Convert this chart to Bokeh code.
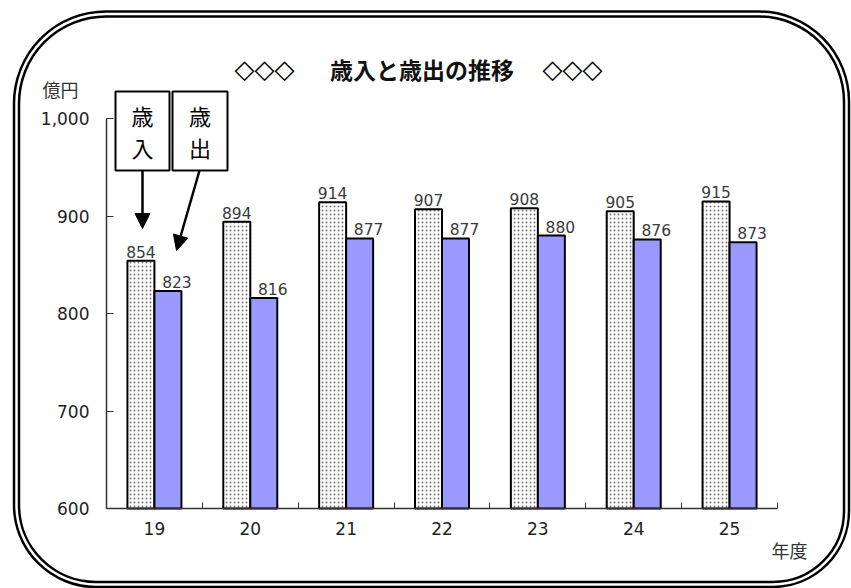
from bokeh.plotting import figure
from bokeh.models import (ColumnDataSource, FixedTicker, NumeralTickFormatter, Label,
                          BoxAnnotation, Arrow, NormalHead, Range1d)
from bokeh.transform import dodge
from bokeh.embed import file_html
from bokeh.resources import INLINE
from bokeh.core.properties import value

# ---- data ----
years = ["19", "20", "21", "22", "23", "24", "25"]
revenue = [854, 894, 914, 907, 908, 905, 915]        # 歳入
expenditure = [823, 816, 877, 877, 880, 876, 873]    # 歳出
y_ticks = [600, 700, 800, 900, 1000]

# ---- layout (pixels) ----
W, H = 851, 588
FL, FR, FB = 106, 777, 508      # plot-area left/right/bottom in canvas pixels
Y0, Y1 = 600, 1000
YTOP_PX = 118                   # pixel row of the 1,000 tick
n = len(years)
ppu_y = (FB - YTOP_PX) / (Y1 - Y0)
ppu_x = (FR - FL) / n


def dx(px):
    return (px - FL) / ppu_x


def dy(py):
    return Y0 + (FB - py) / ppu_y


p = figure(width=W, height=H, x_range=Range1d(dx(0), dx(W)), y_range=Range1d(dy(H), dy(0)),
           output_backend="svg", toolbar_location=None, tools="", title=None,
           min_border=0, min_border_left=0, min_border_right=0,
           min_border_top=0, min_border_bottom=0)
p.outline_line_color = None
p.xgrid.visible = False
p.ygrid.visible = False
p.background_fill_color = "white"
p.border_fill_color = "white"

centers = [i + 0.5 for i in range(n)]
src = ColumnDataSource(dict(
    x=centers, rev=revenue, exp=expenditure,
    rev_lbl=[str(v) for v in revenue], exp_lbl=[str(v) for v in expenditure]))

bw = 27 / ppu_x
p.vbar(x=dodge("x", -bw / 2), top="rev", bottom=Y0, width=bw, source=src,
       fill_color="white", line_color="black", line_width=2,
       hatch_pattern="dot", hatch_color="#777777", hatch_scale=4, hatch_weight=1)
p.vbar(x=dodge("x", bw / 2), top="exp", bottom=Y0, width=bw, source=src,
       fill_color="#9999FF", line_color="black", line_width=2)

p.text(x=dodge("x", -bw / 2), y="rev", text="rev_lbl", source=src,
       text_align="center", text_baseline="alphabetic", y_offset=-9,
       text_font=value("DejaVu Sans"), text_font_size="15.5px", text_color="#3a3a3a")
p.text(x=dodge("x", bw / 2), y="exp", text="exp_lbl", source=src,
       text_align="center", text_baseline="alphabetic", y_offset=-9, x_offset=9,
       text_font=value("DejaVu Sans"), text_font_size="15.5px", text_color="#3a3a3a")

# x axis (fixed at the 600 line)
xa = p.xaxis[0]
xa.fixed_location = Y0
xa.ticker = FixedTicker(ticks=centers, minor_ticks=list(range(1, n + 1)))
xa.major_label_overrides = {c: y for c, y in zip(centers, years)}
xa.major_tick_in = 0
xa.major_tick_out = 0
xa.minor_tick_in = 6
xa.minor_tick_out = 0
xa.minor_tick_line_color = "#333333"
xa.axis_line_color = "#333333"
xa.axis_line_width = 1.5
xa.bounds = (0, n)
xa.major_label_standoff = 13
xa.major_label_text_font = "DejaVu Sans"
xa.major_label_text_font_size = "17px"
xa.major_label_text_color = "#222222"

# y axis (fixed at x = 0)
ya = p.yaxis[0]
ya.fixed_location = 0
ya.ticker = FixedTicker(ticks=y_ticks)
ya.formatter = NumeralTickFormatter(format="0,0")
ya.bounds = (Y0, Y1)
ya.major_tick_in = 7
ya.major_tick_out = 0
ya.minor_tick_in = 0
ya.minor_tick_out = 0
ya.major_tick_line_color = "#333333"
ya.axis_line_color = "#333333"
ya.axis_line_width = 1.5
ya.major_label_standoff = 17
ya.major_label_text_font = "DejaVu Sans"
ya.major_label_text_font_size = "17px"
ya.major_label_text_color = "#222222"

CJK = "Noto Sans CJK JP"

# title
for cx in (264, 572):
    p.add_layout(Label(x=dx(cx), y=dy(68), text="◇◇◇", text_align="center", text_baseline="middle",
                       text_font="DejaVu Sans", text_font_size="26px", text_color="black"))
p.add_layout(Label(x=dx(421.5), y=dy(68), text="歳入と歳出の推移", text_align="center",
                   text_baseline="middle", text_font=CJK, text_font_size="23px",
                   text_font_style="bold", text_color="#111111"))

# unit labels
p.add_layout(Label(x=dx(60), y=dy(88), text="億円", text_align="center", text_baseline="middle",
                   text_font=CJK, text_font_size="18px", text_color="#333333"))
p.add_layout(Label(x=dx(789), y=dy(549), text="年度", text_align="center", text_baseline="middle",
                   text_font=CJK, text_font_size="18px", text_color="#333333"))

# call-out boxes and arrows
for (l, r, cx, chars) in [(115, 169, 142, ("歳", "入")), (172, 227, 199.5, ("歳", "出"))]:
    p.add_layout(BoxAnnotation(left=dx(l), right=dx(r), top=dy(91), bottom=dy(170),
                               fill_color=None, line_color="black", line_width=2, line_alpha=1))
    for ch, cy in zip(chars, (114, 146)):
        p.add_layout(Label(x=dx(cx), y=dy(cy), text=ch, text_align="center", text_baseline="middle",
                           text_font=CJK, text_font_size="22px", text_color="black"))

p.add_layout(Arrow(end=NormalHead(size=15, fill_color="black", line_color="black"),
                   x_start=dx(142), y_start=dy(170), x_end=dx(142), y_end=dy(228),
                   line_width=2.5, line_color="black"))
p.add_layout(Arrow(end=NormalHead(size=15, fill_color="black", line_color="black"),
                   x_start=dx(199), y_start=dy(170), x_end=dx(176), y_end=dy(250),
                   line_width=2.5, line_color="black"))

# double rounded frame (corner radii: top-left, top-right, bottom-right, bottom-left)
p.add_layout(BoxAnnotation(left=dx(13.5), right=dx(848.5), top=dy(11), bottom=dy(586.5),
                           fill_color=None, line_color="black", line_width=2.5, line_alpha=1,
                           border_radius=(92, 90, 76, 82)))
p.add_layout(BoxAnnotation(left=dx(18.5), right=dx(843.5), top=dy(16), bottom=dy(581.5),
                           fill_color=None, line_color="black", line_width=2.5, line_alpha=1,
                           border_radius=(87, 85, 71, 77)))

open("out.html", "w").write(file_html(p, INLINE))
